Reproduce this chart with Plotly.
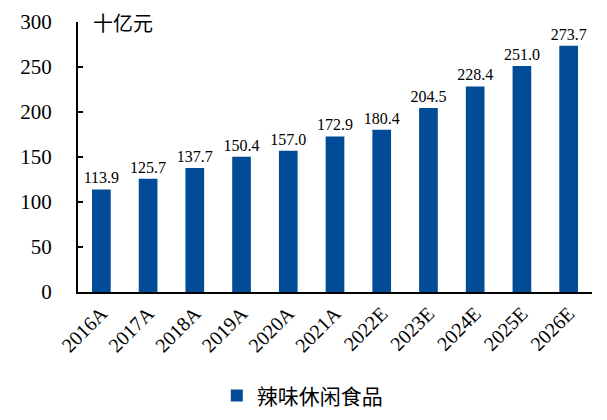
import plotly.graph_objects as go

categories = ["2016A", "2017A", "2018A", "2019A", "2020A", "2021A",
              "2022E", "2023E", "2024E", "2025E", "2026E"]
values = [113.9, 125.7, 137.7, 150.4, 157.0, 172.9, 180.4, 204.5, 228.4, 251.0, 273.7]
series_name = "辣味休闲食品"
unit_label = "十亿元"
y_ticks = [0, 50, 100, 150, 200, 250, 300]

SERIF = "Liberation Serif"
CJK = "Noto Sans CJK SC"
BAR_COLOR = "#024C97"

fig = go.Figure()
fig.add_trace(go.Bar(
    x=categories,
    y=values,
    name=series_name,
    marker=dict(color=BAR_COLOR, line=dict(width=0)),
    width=0.4,
    text=[f"{v:.1f}" for v in values],
    textposition="outside",
    constraintext="none",
    textfont=dict(family=SERIF, size=16, color="black"),
    cliponaxis=False,
    showlegend=True,
))

fig.update_layout(
    width=599, height=412,
    margin=dict(l=70, r=15, t=14, b=128, autoexpand=False),
    paper_bgcolor="white",
    plot_bgcolor="white",
    bargap=0.6,
    font=dict(family=SERIF, color="black"),
    showlegend=True,
    legend=dict(
        orientation="h",
        x=0.27, xanchor="left",
        y=-0.385, yanchor="middle",
        font=dict(family=CJK, size=21, color="black"),
        itemwidth=30,
        bgcolor="rgba(0,0,0,0)",
    ),
    xaxis=dict(
        type="category",
        showline=True, linecolor="black", linewidth=2,
        ticks="", tickangle=-45,
        tickfont=dict(family=SERIF, size=20, color="black"),
        showgrid=False, zeroline=False,
    ),
    yaxis=dict(
        range=[0, 300],
        tickvals=y_ticks,
        showline=True, linecolor="black", linewidth=2,
        ticks="inside", ticklen=5, tickwidth=2, tickcolor="black",
        tickfont=dict(family=SERIF, size=21, color="black"),
        showgrid=False, zeroline=False,
        ticklabelstandoff=20,
    ),
    annotations=[dict(
        text=unit_label,
        xref="paper", yref="paper",
        x=0.025, y=1.0,
        xanchor="left", yanchor="middle",
        showarrow=False,
        font=dict(family=CJK, size=20, color="black"),
    )],
)

fig.write_html("out.html")
